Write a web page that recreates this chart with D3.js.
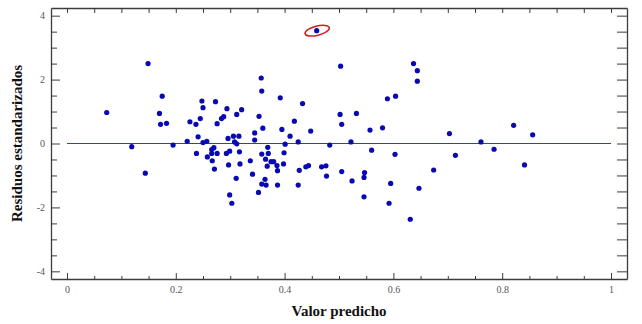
<!DOCTYPE html>
<html>
<head>
<meta charset="utf-8">
<script src="https://cdn.jsdelivr.net/npm/d3@7"></script>
<style>
  body { margin: 0; background: #fff; }
  svg { display: block; }
  .tick text { font-family: "Liberation Serif", "Times New Roman", serif; font-size: 10px; fill: #555; }
  .title { font-family: "Liberation Serif", "Times New Roman", serif; font-size: 15px; font-weight: bold; fill: #111; }
</style>
</head>
<body>
<svg></svg>
<script>
// valores predichos (x) y residuos estandarizados (y)
const predicho = [
  0.073, 0.149, 0.119, 0.144, 0.175, 0.170, 0.172, 0.183, 0.195, 0.221,
  0.226, 0.237, 0.241, 0.245, 0.248, 0.250, 0.250, 0.257, 0.273, 0.276,
  0.238, 0.258, 0.266, 0.270, 0.266, 0.276, 0.267, 0.271, 0.284, 0.288,
  0.294, 0.321, 0.312, 0.296, 0.306, 0.316, 0.308, 0.312, 0.293, 0.299,
  0.317, 0.297, 0.318, 0.337, 0.341, 0.311, 0.299, 0.303, 0.352, 0.345,
  0.345, 0.353, 0.357, 0.358, 0.392, 0.433, 0.418, 0.360, 0.395, 0.448,
  0.410, 0.425, 0.369, 0.401, 0.358, 0.370, 0.399, 0.365, 0.375, 0.380,
  0.368, 0.386, 0.398, 0.387, 0.427, 0.439, 0.444, 0.468, 0.476, 0.477,
  0.505, 0.524, 0.364, 0.358, 0.366, 0.387, 0.425, 0.459, 0.503, 0.502,
  0.505, 0.532, 0.483, 0.522, 0.557, 0.580, 0.560, 0.603, 0.589, 0.604,
  0.637, 0.644, 0.644, 0.547, 0.546, 0.546, 0.595, 0.592, 0.631, 0.647,
  0.674, 0.703, 0.714, 0.761, 0.785, 0.821, 0.856, 0.841
]
const residuo = [
  0.97, 2.50, -0.10, -0.93, 1.48, 0.94, 0.60, 0.63, -0.05, 0.07,
  0.68, 0.60, 0.21, 0.78, 1.33, 1.12, 0.03, 0.07, 1.31, 0.62,
  -0.31, -0.42, -0.19, -0.13, -0.31, -0.31, -0.54, -0.80, 0.78, 0.84,
  1.09, 1.06, 0.91, 0.16, 0.23, 0.23, 0.05, -0.01, -0.31, -0.24,
  -0.26, -0.67, -0.64, -0.54, -0.96, -1.09, -1.61, -1.87, -1.53, 0.33,
  0.11, 0.85, 2.05, 1.64, 1.43, 1.25, 0.70, 0.48, 0.44, 0.39,
  0.23, 0.05, -0.12, -0.02, -0.33, -0.31, -0.29, -0.49, -0.57, -0.57,
  -0.71, -0.69, -0.64, -0.85, -0.84, -0.73, -0.69, -0.73, -0.70, -1.02,
  -0.88, -1.17, -1.12, -1.27, -1.30, -1.30, -1.30, 3.53, 2.42, 0.91,
  0.60, 0.94, -0.05, 0.05, 0.42, 0.49, -0.21, -0.34, 1.40, 1.48,
  2.50, 2.28, 1.95, -0.91, -1.06, -1.67, -1.25, -1.87, -2.37, -1.40,
  -0.83, 0.31, -0.37, 0.05, -0.18, 0.57, 0.27, -0.67
]
const xTicks = [0, 0.2, 0.4, 0.6, 0.8, 1]
const yTicks = [-4, -2, 0, 2, 4]
const outlierIndex = 87

const width = 642
const height = 324
const margin = { top: 8, right: 15, bottom: 45, left: 51 }

const svg = d3.select("svg").attr("width", width).attr("height", height)

const xScale = d3.scaleLinear()
    .domain([-0.0294, 1.0294])
    .range([margin.left, width - margin.right])
const yScale = d3.scaleLinear()
    .domain([-4.24, 4.24])
    .range([height - margin.bottom, margin.top])

const xMinor = d3.range(0, 1.0001, 0.05).map(d => +d.toFixed(2))
const yMinor = d3.range(-4, 4.0001, 0.5).map(d => +d.toFixed(1))
const isMajor = (list, v) => list.some(t => Math.abs(t - v) < 1e-6)

const frameColor = "#3c3c3c"

function styleAxis(g) {
    g.select(".domain").attr("stroke", frameColor).attr("stroke-width", 1.3)
    g.selectAll(".tick line").attr("stroke", frameColor)
}

// eje inferior
const axisB = svg.append("g")
    .attr("transform", "translate(0," + yScale.range()[0] + ")")
    .call(d3.axisBottom(xScale).tickValues(xMinor).tickSize(-3).tickSizeOuter(0).tickPadding(7)
        .tickFormat(d => isMajor(xTicks, d) ? d3.format("~g")(d) : ""))
styleAxis(axisB)
axisB.selectAll(".tick line").filter(d => isMajor(xTicks, d)).attr("y2", -6)

// eje superior
const axisT = svg.append("g")
    .attr("transform", "translate(0," + yScale.range()[1] + ")")
    .call(d3.axisTop(xScale).tickValues(xMinor).tickSize(-5).tickSizeOuter(0).tickFormat(""))
styleAxis(axisT)

// eje izquierdo
const axisL = svg.append("g")
    .attr("transform", "translate(" + xScale.range()[0] + ",0)")
    .call(d3.axisLeft(yScale).tickValues(yMinor).tickSize(-6).tickSizeOuter(0).tickPadding(6)
        .tickFormat(d => isMajor(yTicks, d) ? d3.format("~g")(d).replace("−", "-") : ""))
styleAxis(axisL)
axisL.selectAll(".tick line").filter(d => isMajor(yTicks, d)).attr("x2", 9)

// eje derecho
const axisR = svg.append("g")
    .attr("transform", "translate(" + xScale.range()[1] + ",0)")
    .call(d3.axisRight(yScale).tickValues(yMinor).tickSize(-10).tickSizeOuter(0).tickFormat(""))
styleAxis(axisR)

// linea de referencia en cero
svg.append("line")
    .attr("x1", xScale(0))
    .attr("x2", xScale(1))
    .attr("y1", yScale(0))
    .attr("y2", yScale(0))
    .attr("stroke", "#3838c8")
    .attr("stroke-width", 1)
    .attr("shape-rendering", "crispEdges")

const data = predicho.map((p, i) => ({ x: p, y: residuo[i] }))

svg.selectAll(".punto")
    .data(data)
    .enter()
    .append("circle")
    .attr("class", "punto")
    .attr("cx", d => xScale(d.x))
    .attr("cy", d => yScale(d.y))
    .attr("r", 2.6)
    .style("fill", "#0808b4")

// elipse roja alrededor del valor atipico
const out = data[outlierIndex]
svg.append("ellipse")
    .attr("cx", xScale(out.x) + 0.5)
    .attr("cy", yScale(out.y))
    .attr("rx", 12.5)
    .attr("ry", 4.6)
    .attr("transform", "rotate(-14," + (xScale(out.x) + 0.5) + "," + yScale(out.y) + ")")
    .style("fill", "none")
    .style("stroke", "#cc2020")
    .style("stroke-width", 1.5)

// titulos
svg.append("text")
    .attr("class", "title")
    .attr("x", (xScale.range()[0] + xScale.range()[1]) / 2)
    .attr("y", 316)
    .attr("text-anchor", "middle")
    .text("Valor predicho")

svg.append("text")
    .attr("class", "title")
    .attr("transform", "translate(22," + yScale(0) + ") rotate(-90)")
    .attr("text-anchor", "middle")
    .text("Residuos estandarizados")
</script>
</body>
</html>
